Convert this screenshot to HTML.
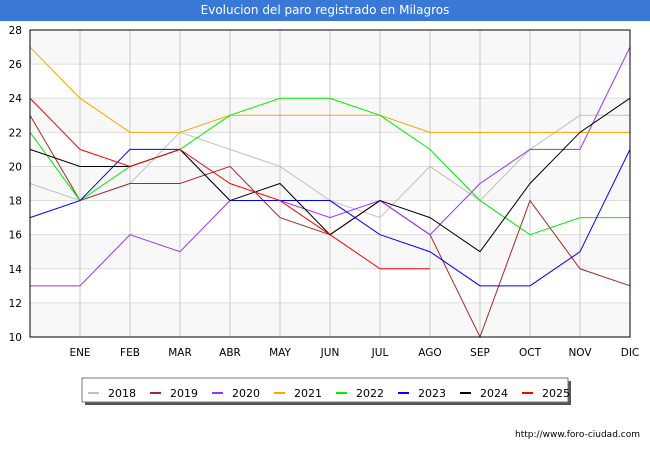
<!DOCTYPE html>
<html><head><meta charset="utf-8"><style>
body{margin:0;background:#fff;font-family:"DejaVu Sans","Liberation Sans",sans-serif}
#title{position:absolute;left:0;top:0;width:650px;height:21px;background:#3a78d8;color:#fff;font-size:12px;text-align:center;line-height:21px}
</style></head><body>
<div id="title">Evolucion del paro registrado en Milagros</div>
<svg id="c" width="650" height="450" style="position:absolute;left:0;top:0;font-family:'DejaVu Sans',sans-serif"></svg>
<script>
const months=["","ENE","FEB","MAR","ABR","MAY","JUN","JUL","AGO","SEP","OCT","NOV","DIC"];
const yTicks=[10,12,14,16,18,20,22,24,26,28];
const years=["2018","2019","2020","2021","2022","2023","2024","2025"];
const colors=["#c0c0c0","#a52a2a","#9b30ff","#ffa500","#00ee00","#0000ff","#000000","#ff0000"];
const s2018=[19,18,19,22,21,20,18,17,20,18,21,23,23];
const s2019=[23,18,19,19,20,17,16,18,16,10,18,14,13];
const s2020=[13,13,16,15,18,18,17,18,16,19,21,21,27];
const s2021=[27,24,22,22,23,23,23,23,22,22,22,22,22];
const s2022=[22,18,20,21,23,24,24,23,21,18,16,17,17];
const s2023=[17,18,21,21,18,18,18,16,15,13,13,15,21];
const s2024=[21,20,20,21,18,19,16,18,17,15,19,22,24];
const s2025=[24,21,20,21,19,18,16,14,14];
const series=[s2018,s2019,s2020,s2021,s2022,s2023,s2024,s2025];
const L=30,R=630,T=30,B=337,ymin=10,ymax=28;
const x=i=>L+i*(R-L)/(months.length-1);
const y=v=>B-(v-ymin)*(B-T)/(ymax-ymin);
const svg=document.getElementById('c');const NS="http://www.w3.org/2000/svg";
function mk(t,a,p){const e=document.createElementNS(NS,t);for(const k in a)e.setAttribute(k,a[k]);(p||svg).appendChild(e);return e;}
for(let i=0;i<yTicks.length-1;i++){
 if((yTicks.length-2-i)%2===0){const r=mk('rect',{x:L,y:y(yTicks[i+1]),width:R-L,height:y(yTicks[i])-y(yTicks[i+1]),fill:'#f8f8f8'});
 
 }
}
yTicks.forEach(v=>{const l=mk('line',{x1:L,x2:R,y1:y(v),y2:y(v),stroke:'#dddddd'});


const t=mk('text',{x:L-8,y:y(v)+4,'text-anchor':'end','font-size':10.5,fill:'#000'});t.textContent=v;

});
months.forEach((m,i)=>{if(i>0){const l=mk('line',{x1:x(i),x2:x(i),y1:T,y2:B,stroke:'#c8c8c8'});


const t=mk('text',{x:x(i),y:B+19,'text-anchor':'middle','font-size':10.5,fill:'#000'});t.textContent=m;

}});
series.forEach((s,k)=>{const p=mk('polyline',{points:s.map((v,i)=>x(i)+','+y(v)).join(' '),fill:'none',stroke:colors[k],'stroke-width':1});

});
const fr=mk('rect',{x:L,y:T,width:R-L,height:B-T,fill:'none',stroke:'#000','stroke-width':1});


const g=mk('g',{});


mk('rect',{x:85,y:381,width:486,height:24,fill:'#555'},g);
mk('rect',{x:82,y:378,width:486,height:24,fill:'#fff',stroke:'#777'},g);
years.forEach((yr,k)=>{const lx=88+k*62;
const e=mk('g',{},g);


mk('line',{x1:lx,x2:lx+11,y1:393,y2:393,stroke:colors[k],'stroke-width':2},e);
const t=mk('text',{x:lx+20,y:397,'font-size':11,fill:'#000'},e);t.textContent=yr;});
const u=mk('text',{x:640,y:437,'text-anchor':'end','font-size':9,fill:'#000'});u.textContent='http://www.foro-ciudad.com';


</script>
</body></html>
